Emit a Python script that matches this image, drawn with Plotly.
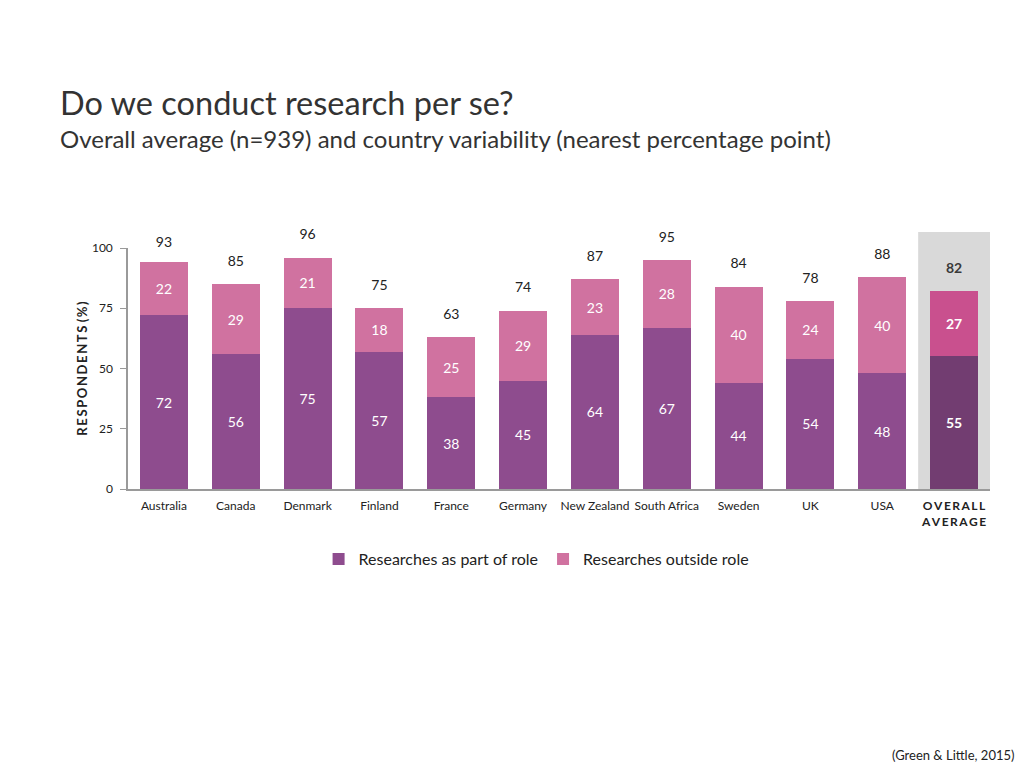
import plotly.graph_objects as go

categories = ["Australia", "Canada", "Denmark", "Finland", "France", "Germany",
              "New Zealand", "South Africa", "Sweden", "UK", "USA", "OVERALL AVERAGE"]
TS = "\u2009"
tick_labels = ["Australia", "Canada", "Denmark", "Finland", "France", "Germany",
               "New Zealand", "South Africa", "Sweden", "UK", "USA",
               "<b>" + TS.join("OVERALL") + "</b><br><b>" + TS.join("AVERAGE") + "</b>"]
part_of_role = [72, 56, 75, 57, 38, 45, 64, 67, 44, 54, 48, 55]
outside_role = [22, 29, 21, 18, 25, 29, 23, 28, 40, 24, 40, 27]
totals = [93, 85, 96, 75, 63, 74, 87, 95, 84, 78, 88, 82]

FONT = "Lato"
c_part = "#8E4C8E"
c_out = "#D072A0"
c_part_avg = "#723D71"
c_out_avg = "#C9508E"

n = len(categories)
part_colors = [c_part] * (n - 1) + [c_part_avg]
out_colors = [c_out] * (n - 1) + [c_out_avg]
part_text = [str(v) for v in part_of_role[:-1]] + [f"<b>{part_of_role[-1]}</b>"]
out_text = [str(v) for v in outside_role[:-1]] + [f"<b>{outside_role[-1]}</b>"]
tot_text = [str(v) for v in totals[:-1]] + [f"<b>{totals[-1]}</b>"]

fig = go.Figure()
fig.add_trace(go.Bar(
    x=categories, y=part_of_role, name="Researches as part of role",
    marker=dict(color=part_colors, line=dict(width=0)),
    text=part_text, textposition="inside", insidetextanchor="middle",
    textfont=dict(color="white", size=14, family=FONT), constraintext="none",
    hoverinfo="skip", cliponaxis=False,
))
fig.add_trace(go.Bar(
    x=categories, y=outside_role, name="Researches outside role",
    marker=dict(color=out_colors, line=dict(width=0)),
    text=out_text, textposition="inside", insidetextanchor="middle",
    textfont=dict(color="white", size=14, family=FONT), constraintext="none",
    hoverinfo="skip", cliponaxis=False,
))
fig.add_trace(go.Scatter(
    x=categories, y=totals, mode="markers+text", text=tot_text,
    marker=dict(size=22, color="rgba(0,0,0,0)"),
    textposition="top center",
    textfont=dict(color=["#222222"] * (n - 1) + ["#3a3a3a"], size=14, family=FONT),
    showlegend=False, hoverinfo="skip", cliponaxis=False,
))

# grey highlight behind overall average (extends above the axis top)
fig.add_shape(type="rect", xref="paper", yref="paper",
              x0=(n - 1) / n, x1=1.0, y0=0, y1=1.066,
              fillcolor="#D9D9D9", line=dict(width=0), layer="below")

fig.update_layout(
    width=1016, height=760,
    paper_bgcolor="white", plot_bgcolor="white",
    barmode="stack", bargap=0.33,
    margin=dict(l=120, r=34, t=240, b=279),
    font=dict(family=FONT, color="#222222"),
    showlegend=True,
    legend=dict(orientation="h", x=0.474, xanchor="center", y=-0.22, yanchor="top",
                font=dict(size=16, family=FONT, color="#222222"), itemwidth=30,
                traceorder="normal"),
    xaxis=dict(
        range=[-0.5, n - 0.5], tickmode="array", tickvals=categories, ticktext=tick_labels,
        showline=True, linecolor="#9A9A9A", linewidth=1.5, ticks="", ticklabelstandoff=5,
        tickfont=dict(size=12, family=FONT, color="#222222"), showgrid=False,
    ),
    yaxis=dict(
        range=[0, 100], tickvals=[0, 25, 50, 75, 100], showline=True, linecolor="#9A9A9A",
        linewidth=1.5, ticks="outside", ticklen=6, tickcolor="#9A9A9A", ticklabelstandoff=5,
        tickfont=dict(size=12, family=FONT, color="#222222"), showgrid=False, zeroline=False,
        title=dict(text="<b>" + TS.join("RESPONDENTS") + TS + TS + TS.join("(%)") + "</b>",
                   font=dict(size=13, family=FONT, color="#222222"), standoff=1),
    ),
)

fig.add_annotation(text="Do we conduct research per se?", xref="paper", yref="paper",
                   x=0, y=1, xshift=-70, yshift=124, xanchor="left", yanchor="bottom",
                   showarrow=False, font=dict(size=32.5, family=FONT, color="#333333"))
fig.add_annotation(text="Overall average (n=939) and country variability (nearest percentage point)",
                   xref="paper", yref="paper", x=0, y=1, xshift=-70, yshift=93, xanchor="left",
                   yanchor="bottom", showarrow=False,
                   font=dict(size=24, family=FONT, color="#333333"))
fig.add_annotation(text="(Green & Little, 2015)", xref="paper", yref="paper", x=1, y=0,
                   xshift=26, yshift=-276, xanchor="right", yanchor="bottom", showarrow=False,
                   font=dict(size=13, family=FONT, color="#222222"))

fig.write_html("out.html")
